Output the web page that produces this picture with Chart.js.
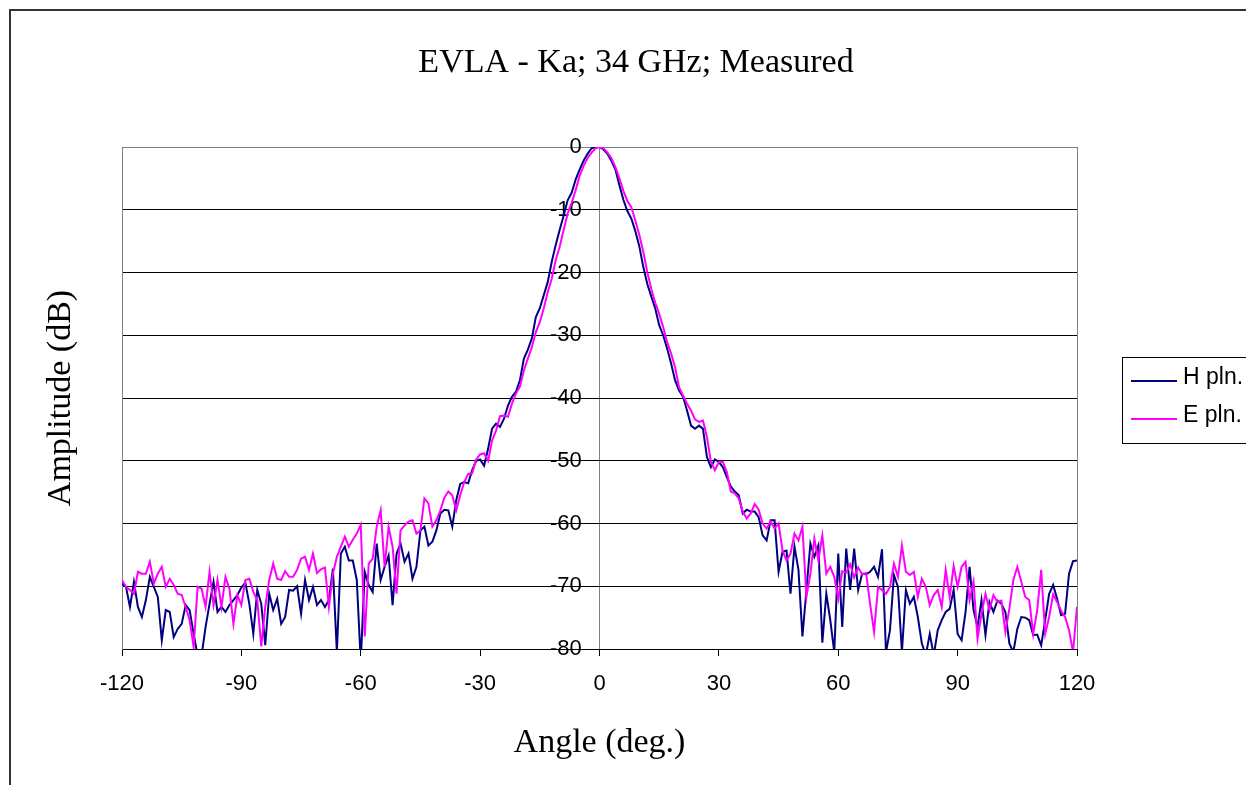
<!DOCTYPE html>
<html>
<head>
<meta charset="utf-8">
<title>EVLA - Ka; 34 GHz; Measured</title>
<script src="https://cdn.jsdelivr.net/npm/chart.js@4.4.1/dist/chart.umd.min.js"></script>
<style>
  html, body { margin: 0; padding: 0; background: #fff; }
</style>
</head>
<body>
<canvas id="beam" width="1246" height="785"></canvas>
<script>
// measured beam cuts at 1 deg steps (-120 .. 120)
const angles = [];
for (let a = -120; a <= 120; a++) angles.push(a);

const hPlane = [
  -69.6, -70.1, -73.3, -69.3, -73.3, -74.9, -72.2, -68.5, -70.1, -71.7,   // -120
  -78.6, -73.8, -74.1, -78.1, -76.8, -76.0, -73.0, -73.8, -77.6, -81.0,   // -110
  -81.0, -76.5, -72.8, -69.3, -74.1, -73.3, -74.1, -73.0, -72.2, -71.4,   // -100
  -70.2, -69.4, -72.8, -77.6, -70.6, -72.8, -79.4, -71.2, -73.8, -72.0,   // -90
  -76.0, -74.9, -70.6, -70.7, -70.0, -74.4, -69.0, -72.2, -70.1, -73.0,   // -80
  -72.2, -73.3, -72.2, -67.2, -80.5, -64.8, -63.7, -65.9, -65.9, -69.0,   // -70
  -82.0, -67.7, -69.8, -70.9, -63.2, -69.0, -66.9, -65.1, -73.0, -64.8,   // -60
  -63.2, -66.1, -64.8, -68.8, -66.9, -61.1, -60.5, -63.5, -62.9, -61.1,   // -50
  -58.4, -57.8, -57.9, -60.5, -56.3, -53.7, -53.4, -53.6, -51.5, -50.0,   // -40
  -49.8, -50.8, -48.1, -44.9, -44.1, -44.6, -43.3, -41.2, -39.8, -39.0,   // -30
  -37.2, -33.7, -32.3, -30.5, -27.1, -25.7, -23.6, -21.5, -18.3, -15.6,   // -20
  -13.2, -10.9, -8.5, -7.3, -5.2, -3.6, -2.2, -1.1, -0.2, 0.0,            // -10
  0.0, -0.4, -1.1, -2.2, -3.6, -6.1, -8.4, -10.2, -11.4, -13.4,           // 0
  -15.8, -19.1, -21.8, -23.8, -25.7, -28.4, -30.0, -32.1, -34.5, -37.2,   // 10
  -38.8, -39.8, -42.0, -44.4, -44.9, -44.4, -44.9, -49.4, -51.0, -49.8,   // 20
  -50.2, -51.0, -52.6, -54.1, -54.9, -55.5, -58.4, -57.8, -58.1, -58.1,   // 30
  -59.0, -61.9, -62.7, -59.5, -59.5, -67.7, -64.5, -64.3, -71.2, -63.7,   // 40
  -67.4, -78.0, -70.6, -63.2, -65.3, -63.5, -79.0, -71.2, -75.4, -80.5,   // 50
  -64.8, -76.5, -64.0, -70.6, -64.0, -70.6, -68.0, -68.1, -67.7, -66.9,   // 60
  -68.5, -64.1, -80.5, -77.0, -68.2, -70.1, -80.5, -70.6, -72.8, -71.7,   // 70
  -74.9, -79.1, -81.0, -77.6, -81.0, -77.0, -75.4, -74.1, -73.6, -70.6,   // 80
  -77.6, -78.6, -74.1, -66.9, -73.8, -76.5, -72.2, -77.8, -72.5, -74.1,   // 90
  -72.3, -72.8, -74.1, -79.1, -80.5, -76.8, -74.9, -75.0, -75.4, -77.8,   // 100
  -77.7, -79.4, -75.4, -71.2, -69.8, -72.0, -74.6, -74.4, -68.0, -66.0,   // 110
  -65.9                                                                   // 120
];

const ePlane = [
  -69.0, -70.1, -70.6, -71.2, -67.7, -68.0, -68.0, -66.1, -69.6, -68.0,   // -120
  -66.9, -70.1, -68.8, -69.8, -71.2, -71.4, -73.3, -75.4, -79.7, -70.1,   // -110
  -70.4, -73.3, -67.7, -73.0, -69.0, -73.3, -68.5, -70.4, -76.0, -71.4,   // -100
  -73.0, -69.0, -68.8, -70.9, -72.2, -79.6, -73.3, -69.0, -66.4, -68.8,   // -90
  -69.0, -67.6, -68.5, -68.5, -67.4, -65.6, -65.3, -67.4, -64.8, -67.9,   // -80
  -67.3, -67.0, -73.3, -68.0, -65.3, -63.7, -62.1, -63.7, -62.6, -61.6,   // -70
  -60.2, -78.0, -66.4, -65.6, -60.5, -57.9, -66.9, -60.5, -63.7, -71.2,   // -60
  -61.1, -60.3, -59.7, -59.5, -61.6, -61.1, -56.0, -56.8, -60.5, -59.5,   // -50
  -57.9, -55.9, -54.9, -55.5, -57.9, -55.5, -53.4, -52.1, -52.0, -49.8,   // -40
  -49.0, -48.8, -50.0, -46.8, -45.2, -42.9, -42.8, -43.0, -40.9, -39.3,   // -30
  -38.2, -35.6, -33.7, -31.9, -29.5, -27.9, -25.7, -23.1, -21.0, -18.0,   // -20
  -15.9, -13.2, -10.6, -8.9, -6.9, -4.6, -3.0, -1.8, -0.9, -0.2,          // -10
  0.0, -0.2, -0.9, -1.8, -3.2, -5.0, -7.0, -8.6, -9.6, -11.7,             // 0
  -14.0, -16.7, -19.9, -22.6, -24.8, -26.6, -28.7, -31.1, -32.9, -35.1,   // 10
  -38.3, -39.6, -40.9, -42.0, -43.4, -43.8, -43.6, -46.2, -50.2, -51.5,   // 20
  -50.2, -50.2, -51.8, -54.9, -55.2, -56.0, -58.1, -59.2, -58.4, -56.9,   // 30
  -57.8, -60.0, -60.8, -59.7, -60.8, -60.0, -64.3, -65.9, -64.8, -61.6,   // 40
  -62.7, -60.5, -71.7, -68.0, -62.4, -65.9, -61.9, -68.0, -66.9, -68.5,   // 50
  -72.0, -67.6, -67.8, -66.5, -68.6, -67.0, -68.1, -67.9, -72.8, -77.3,   // 60
  -70.1, -70.6, -71.2, -70.1, -66.4, -68.5, -63.5, -67.7, -68.2, -67.7,   // 70
  -71.7, -68.8, -70.1, -73.0, -71.4, -70.6, -73.3, -67.4, -71.7, -66.8,   // 80
  -70.1, -66.9, -66.1, -72.2, -69.3, -78.4, -74.4, -71.2, -73.8, -71.4,   // 90
  -72.5, -72.3, -77.3, -73.6, -69.0, -66.9, -69.3, -71.7, -72.2, -77.6,   // 100
  -73.8, -67.4, -77.6, -74.9, -71.3, -72.5, -73.9, -74.9, -77.0, -80.5,   // 110
  -73.3                                                                   // 120
];

const xTicks = [-120, -90, -60, -30, 0, 30, 60, 90, 120];
const yTicks = [0, -10, -20, -30, -40, -50, -60, -70, -80];

const titleText = "EVLA - Ka; 34 GHz; Measured";
const yTitle = "Amplitude (dB)";
const xTitle = "Angle (deg.)";

const SANS = '"Liberation Sans", Arial, sans-serif';
const SERIF = '"Liberation Serif", "Times New Roman", serif';

// frame, title, y title and legend (legend box runs off the right edge like the original)
const decor = {
  id: "decor",
  beforeDraw(chart) {
    const ctx = chart.ctx;
    ctx.save();
    ctx.fillStyle = "#fff";
    ctx.fillRect(0, 0, chart.width, chart.height);
    ctx.restore();
  },
  afterDraw(chart) {
    const ctx = chart.ctx;
    ctx.save();
    ctx.fillStyle = "#333";
    ctx.fillRect(9, 9, chart.width, 2);
    ctx.fillRect(9, 9, 2, chart.height);

    ctx.fillStyle = "#000";
    ctx.font = "34px " + SERIF;
    ctx.textAlign = "center";
    ctx.textBaseline = "alphabetic";
    ctx.fillText(titleText, 636, 72);

    ctx.save();
    ctx.translate(70, 398);
    ctx.rotate(-Math.PI / 2);
    ctx.fillText(yTitle, 0, 0);
    ctx.restore();

    // legend
    ctx.strokeStyle = "#000";
    ctx.lineWidth = 1;
    ctx.strokeRect(1122.5, 357.5, 200, 86);
    ctx.font = "23px " + SANS;
    ctx.textAlign = "left";
    ctx.textBaseline = "middle";
    const rows = [381, 419];
    chart.data.datasets.forEach((ds, i) => {
      const y = rows[i];
      ctx.strokeStyle = ds.borderColor;
      ctx.lineWidth = 2;
      ctx.beginPath();
      ctx.moveTo(1131, y);
      ctx.lineTo(1177, y);
      ctx.stroke();
      ctx.fillStyle = "#000";
      ctx.fillText(ds.label, 1183, y - 3);
    });
    ctx.restore();
  }
};

new Chart(document.getElementById("beam"), {
  type: "line",
  data: {
    datasets: [
      {
        label: "H pln.",
        data: angles.map((a, i) => ({ x: a, y: hPlane[i] })),
        borderColor: "#000080",
        borderWidth: 2,
        pointRadius: 0,
        tension: 0,
        order: 1
      },
      {
        label: "E pln.",
        data: angles.map((a, i) => ({ x: a, y: ePlane[i] })),
        borderColor: "#ff00ff",
        borderWidth: 2,
        pointRadius: 0,
        tension: 0,
        order: 0
      }
    ]
  },
  options: {
    responsive: false,
    animation: false,
    layout: { padding: { left: 122, right: 169, top: 147, bottom: 0 } },
    plugins: {
      legend: { display: false },
      title: { display: false },
      tooltip: { enabled: false }
    },
    scales: {
      x: {
        type: "linear",
        min: -120,
        max: 120,
        afterBuildTicks: s => { s.ticks = xTicks.map(v => ({ value: v })); },
        afterFit: s => { s.height = 136; },
        ticks: {
          autoSkip: false,
          maxRotation: 0,
          padding: 15,
          color: "#000",
          font: { family: SANS, size: 22 }
        },
        grid: {
          color: c => (c.tick && (c.tick.value === 0 || Math.abs(c.tick.value) === 120)) ? "#808080" : "rgba(0,0,0,0)",
          tickColor: "#000",
          tickLength: 7,
          lineWidth: 1
        },
        border: { color: "#000", width: 1 },
        title: {
          display: true,
          text: xTitle,
          color: "#000",
          font: { family: SERIF, size: 34 },
          padding: { top: 0, bottom: 22 }
        }
      },
      y: {
        type: "linear",
        position: "left",
        min: -80,
        max: 0,
        afterBuildTicks: s => { s.ticks = yTicks.map(v => ({ value: v })); },
        // zero width so the plot starts at the left padding; labels sit left of the 0 deg line
        afterFit: s => { s.width = 0; s.paddingTop = 0; s.paddingBottom = 0; },
        ticks: {
          mirror: true,
          crossAlign: "far",
          padding: 428,
          color: "#000",
          font: { family: SANS, size: 22 }
        },
        grid: {
          color: c => (c.tick && c.tick.value === 0) ? "#808080" : "#000",
          drawTicks: false,
          lineWidth: 1
        },
        border: { color: "#808080", width: 1 }
      }
    }
  },
  plugins: [decor]
});
</script>
</body>
</html>
